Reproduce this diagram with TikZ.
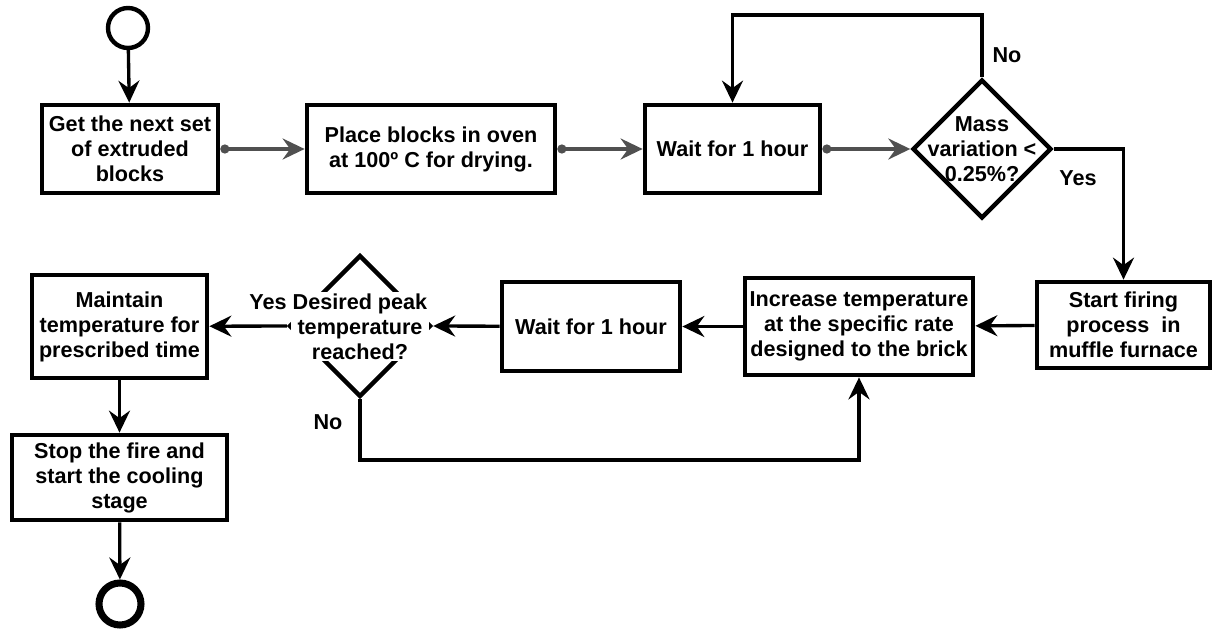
\documentclass[tikz,border=0pt]{standalone}
\usepackage{fontspec}
\setmainfont{Liberation Sans}
\usetikzlibrary{arrows.meta,shapes.geometric}
\definecolor{ink}{HTML}{000000}
\definecolor{flowgray}{HTML}{505050}

\begin{document}
\begin{tikzpicture}[x=1cm,y=1cm,font=\bfseries\fontsize{12.3}{14.2}\selectfont,
  stepbox/.style={draw=ink,line width=2.7pt,fill=white,align=center,inner sep=2pt},
  decision/.style={draw=ink,diamond,line width=2.5pt,minimum width=2.78cm,minimum height=2.78cm,inner sep=0pt},
  terminal/.style={draw=ink,circle,inner sep=0pt},
  arr/.style={-{Stealth[length=4.4mm,width=4.2mm,inset=1.5mm]},line width=1.9pt,draw=ink},
  grayarr/.style={{Circle[length=1.8mm]}-{Stealth[length=4.4mm,width=4.2mm,inset=1.5mm]},line width=1.9pt,draw=flowgray,color=flowgray},
  tag/.style={align=center}]
\path[use as bounding box] (0,0) rectangle (24.3,12.6);
% Top row: drying until the mass settles.
\node[terminal,minimum size=0.8cm,line width=2.5pt] (start) at (2.56,12.04) {};
\node[stepbox,minimum width=3.52cm,minimum height=1.76cm] (getblocks) at (2.60,9.62) {Get the next set\\of extruded\\blocks};
\node[stepbox,minimum width=4.96cm,minimum height=1.76cm] (oven) at (8.62,9.62) {Place blocks in oven\\at 100º C for drying.};
\node[stepbox,minimum width=3.5cm,minimum height=1.76cm] (waitdry) at (14.65,9.62) {Wait for 1 hour};
\node[decision] (massdec) at (19.64,9.62) {};
\node[tag] (masstxt) at (19.64,9.62) {Mass\\variation <\\0.25\%?};
\coordinate (noloop) at (19.64,12.30);
\node[tag] (massno) at (20.14,11.50) {No};
\node[tag] (massyes) at (21.56,9.04) {Yes};

% Bottom row: firing, read from right to left.
\node[stepbox,minimum width=3.46cm,minimum height=1.72cm] (firing) at (22.47,6.10) {Start firing\\process~ in\\muffle furnace};
\node[stepbox,minimum width=4.56cm,minimum height=1.94cm] (ramp) at (17.18,6.07) {Increase temperature\\at the specific rate\\designed to the brick};
\node[stepbox,minimum width=3.56cm,minimum height=1.78cm] (waitfire) at (11.82,6.07) {Wait for 1 hour};
\node[decision,minimum width=2.84cm,minimum height=2.84cm] (peakdec) at (7.20,6.08) {};
\node[tag,fill=white,inner sep=1pt] (peaktxt) at (7.20,6.07) {Desired peak\\temperature\\reached?};
\coordinate (peakloop) at (7.20,3.40);
\node[tag] (peakyes) at (5.36,6.56) {Yes};
\node[tag] (peakno) at (6.56,4.16) {No};
\node[stepbox,minimum width=3.5cm,minimum height=2.06cm] (maintain) at (2.39,6.07) {Maintain\\temperature for\\prescribed time};
\node[stepbox,minimum width=4.3cm,minimum height=1.7cm] (cooling) at (2.39,3.05) {Stop the fire and\\start the cooling\\stage};
\node[terminal,minimum size=0.84cm,line width=4pt] (stop) at (2.40,0.52) {};

\draw[arr] (start)--(getblocks);
\draw[grayarr] (getblocks)--(oven);
\draw[grayarr] (oven)--(waitdry);
\draw[grayarr] (waitdry)--(massdec);
\draw[arr] (massdec.north)--(noloop)-|(waitdry.north);
\draw[arr] (massdec.east)-|(firing.north);
\draw[arr] (firing)--(ramp);
\draw[arr] (ramp)--(waitfire);
\draw[arr] (waitfire)--(peakdec.east);
\draw[arr] (peakdec.west)--(maintain);
\draw[arr] (peakdec.south)--(peakloop)-|(ramp.south);
\draw[arr] (maintain)--(cooling);
\draw[arr] (cooling)--(stop);
\end{tikzpicture}
\end{document}
